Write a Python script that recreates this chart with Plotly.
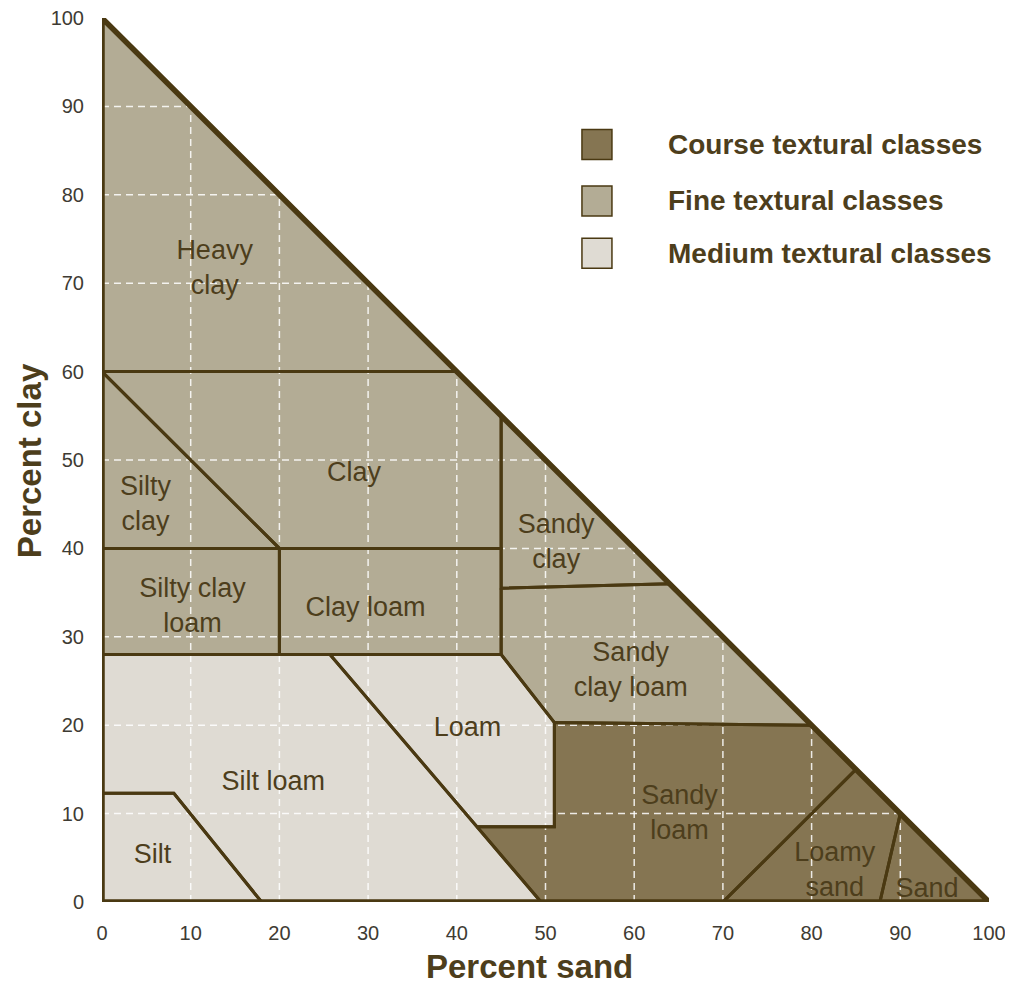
import plotly.graph_objects as go

# ---- data (percent sand = x, percent clay = y) ----
class_names = ["Heavy clay", "Silty clay", "Clay", "Sandy clay", "Silty clay loam",
               "Clay loam", "Sandy clay loam", "Loam", "Silt loam", "Silt",
               "Sandy loam", "Loamy sand", "Sand"]
class_group = ["fine", "fine", "fine", "fine", "fine",
               "fine", "fine", "medium", "medium", "medium",
               "course", "course", "course"]
poly_sand = [
    [0, 0, 40],
    [0, 0, 20],
    [0, 20, 45, 45, 40],
    [45, 45, 64],
    [0, 20, 20, 0],
    [20, 45, 45, 20],
    [45, 64, 80, 51, 45],
    [25.7, 45, 51, 51, 42.3],
    [0, 25.7, 49.5, 18, 8.1, 0],
    [0, 0, 8.1, 18],
    [51, 80, 85, 70, 49.5, 42.3, 51],
    [70, 85, 90, 87.7],
    [87.7, 90, 100],
]
poly_clay = [
    [60, 100, 60],
    [60, 40, 40],
    [60, 40, 40, 55, 60],
    [55, 35.5, 36],
    [40, 40, 28, 28],
    [40, 40, 28, 28],
    [35.5, 36, 20, 20.3, 28],
    [28, 28, 20.3, 8.5, 8.5],
    [28, 28, 0, 0, 12.3, 12.3],
    [0, 12.3, 12.3, 0],
    [20.3, 20, 15, 0, 0, 8.5, 8.5],
    [0, 15, 10, 0],
    [0, 10, 0],
]
label_text = ["Heavy<br>clay", "Silty<br>clay", "Clay", "Sandy<br>clay", "Silty clay<br>loam",
              "Clay loam", "Sandy<br>clay loam", "Loam", "Silt loam", "Silt",
              "Sandy<br>loam", "Loamy<br>sand", "Sand"]
label_sand = [12.7, 4.9, 28.4, 51.2, 10.2, 29.7, 59.6, 41.2, 19.3, 5.7, 65.1, 82.6, 93.0]
label_clay = [71.5, 44.8, 48.4, 40.5, 33.3, 33.1, 26.0, 19.5, 13.4, 5.2, 9.9, 3.4, 1.3]

grid_vals = [10, 20, 30, 40, 50, 60, 70, 80, 90]
tick_vals = [0, 10, 20, 30, 40, 50, 60, 70, 80, 90, 100]

legend_groups = ["course", "fine", "medium"]
legend_labels = ["Course textural classes", "Fine textural classes", "Medium textural classes"]
legend_sand = [55.8, 55.8, 55.8]
legend_clay = [85.7, 79.3, 73.4]
legend_text_sand = 63.6

# ---- styles ----
fill_colors = {"course": "#857552", "fine": "#b3ac95", "medium": "#dfdbd3"}
border = "#4a3912"
text_col = "#4d3e1c"
FONT = "Liberation Sans, Arial"

fig = go.Figure()

# fills
for xs, ys, g in zip(poly_sand, poly_clay, class_group):
    fig.add_trace(go.Scatter(x=xs + [xs[0]], y=ys + [ys[0]], mode="lines", fill="toself",
                             fillcolor=fill_colors[g], line=dict(width=0),
                             hoverinfo="skip", showlegend=False, cliponaxis=False))

# dashed white grid inside triangle
for v in grid_vals:
    fig.add_trace(go.Scatter(x=[0, 100 - v], y=[v, v], mode="lines",
                             line=dict(color="rgba(255,255,255,0.85)", width=1.5, dash="7px,5px"),
                             hoverinfo="skip", showlegend=False))
    fig.add_trace(go.Scatter(x=[v, v], y=[0, 100 - v], mode="lines",
                             line=dict(color="rgba(255,255,255,0.85)", width=1.5, dash="7px,5px"),
                             hoverinfo="skip", showlegend=False))

# borders
for xs, ys in zip(poly_sand, poly_clay):
    fig.add_trace(go.Scatter(x=xs + [xs[0]], y=ys + [ys[0]], mode="lines",
                             line=dict(color=border, width=3),
                             hoverinfo="skip", showlegend=False, cliponaxis=False))

# outer triangle
fig.add_trace(go.Scatter(x=[0, 0, 100, 0], y=[0, 100, 0, 0], mode="lines",
                         line=dict(color=border, width=5.5),
                         hoverinfo="skip", showlegend=False, cliponaxis=False))

# labels
fig.add_trace(go.Scatter(x=label_sand, y=label_clay, mode="text", text=label_text,
                         textfont=dict(family=FONT, size=27, color=text_col),
                         hoverinfo="skip", showlegend=False, cliponaxis=False))

# legend
for g, lab, lx, ly in zip(legend_groups, legend_labels, legend_sand, legend_clay):
    fig.add_trace(go.Scatter(x=[lx], y=[ly], mode="markers",
                             marker=dict(symbol="square", size=30, color=fill_colors[g],
                                         line=dict(color=border, width=1.5)),
                             hoverinfo="skip", showlegend=False, cliponaxis=False))
    fig.add_annotation(x=legend_text_sand, y=ly, text="<b>" + lab + "</b>", showarrow=False,
                       xanchor="left", yanchor="middle",
                       font=dict(family=FONT, size=28, color=text_col))

axis_common = dict(range=[0, 100], showgrid=False, zeroline=False, showline=False,
                   tickvals=tick_vals, ticks="outside", ticklen=13, automargin=False,
                   tickcolor="rgba(0,0,0,0)", ticklabeloverflow="allow",
                   tickfont=dict(family=FONT, size=20, color="#3e3b33"))
fig.update_xaxes(**axis_common)
fig.update_yaxes(**axis_common)

fig.add_annotation(x=0.482, y=-0.0735, xref="paper", yref="paper", text="<b>Percent sand</b>",
                   showarrow=False, xanchor="center", yanchor="middle",
                   font=dict(family=FONT, size=33, color=text_col))
fig.add_annotation(x=-0.0808, y=0.499, xref="paper", yref="paper", text="<b>Percent clay</b>",
                   showarrow=False, xanchor="center", yanchor="middle", textangle=-90,
                   font=dict(family=FONT, size=33, color=text_col))

fig.update_layout(width=1005, height=977, margin=dict(l=94, r=24, t=10, b=83, autoexpand=False),
                  plot_bgcolor="white", paper_bgcolor="white")

fig.write_html("out.html")
